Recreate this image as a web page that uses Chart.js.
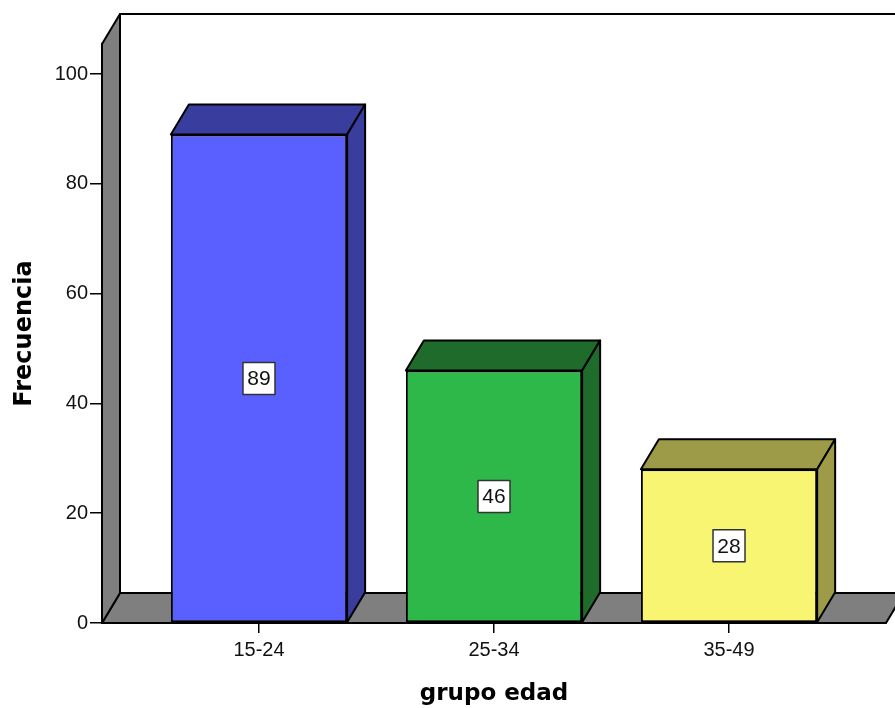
<!DOCTYPE html>
<html>
<head>
<meta charset="utf-8">
<script src="https://cdn.jsdelivr.net/npm/chart.js@4/dist/chart.umd.min.js"></script>
<style>
  body { margin: 0; background: #fff; }
</style>
</head>
<body>
<canvas id="myChart" width="895" height="708"></canvas>
<script>
  // data
  const grupos = ['15-24', '25-34', '35-49'];
  const frecuencias = [89, 46, 28];
  const yTicks = [0, 20, 40, 60, 80, 100];

  // bar colours: front face and the darker top/side faces
  const frontColors = ['#5a5fff', '#2fb84a', '#f8f572'];
  const shadeColors = ['#393d9e', '#1e6b2b', '#9e9b48'];

  // depth of the 3D box
  const DX = 18;
  const DY = -30;

  Chart.defaults.font.family = "'Liberation Sans', Arial, sans-serif";
  Chart.defaults.color = '#111';

  function poly(ctx, pts, fill) {
      ctx.beginPath();
      ctx.moveTo(pts[0][0], pts[0][1]);
      for (let i = 1; i < pts.length; i++) ctx.lineTo(pts[i][0], pts[i][1]);
      ctx.closePath();
      ctx.fillStyle = fill;
      ctx.fill();
      ctx.stroke();
  }

  // walls and floor behind the bars
  const walls = {
      id: 'walls',
      beforeDraw(chart) {
          const {ctx, chartArea: a} = chart;
          ctx.save();
          ctx.strokeStyle = '#000';
          ctx.lineWidth = 2;
          ctx.lineJoin = 'round';
          poly(ctx, [[a.left + DX, a.top + DY], [a.right + DX, a.top + DY],
                     [a.right + DX, a.bottom + DY], [a.left + DX, a.bottom + DY]], '#fff');
          poly(ctx, [[a.left, a.bottom], [a.left + DX, a.bottom + DY],
                     [a.right + DX, a.bottom + DY], [a.right, a.bottom]], '#7f7f7f');
          poly(ctx, [[a.left, a.top], [a.left + DX, a.top + DY],
                     [a.left + DX, a.bottom + DY], [a.left, a.bottom]], '#7f7f7f');
          ctx.restore();
      }
  };

  // top and side faces of each bar, plus the value boxes
  const boxes = {
      id: 'boxes',
      afterDatasetsDraw(chart) {
          const {ctx} = chart;
          const meta = chart.getDatasetMeta(0);
          ctx.save();
          ctx.strokeStyle = '#000';
          ctx.lineWidth = 2;
          ctx.lineJoin = 'round';
          meta.data.forEach((bar, i) => {
              const x1 = bar.x - bar.width / 2;
              const x2 = bar.x + bar.width / 2;
              const top = bar.y;
              const base = bar.base;
              poly(ctx, [[x1, top], [x1 + DX, top + DY], [x2 + DX, top + DY], [x2, top]], shadeColors[i]);
              poly(ctx, [[x2, top], [x2 + DX, top + DY], [x2 + DX, base + DY], [x2, base]], shadeColors[i]);
          });

          ctx.font = "21px 'Liberation Sans', Arial, sans-serif";
          ctx.textAlign = 'center';
          ctx.textBaseline = 'middle';
          meta.data.forEach((bar, i) => {
              const cy = (bar.y + bar.base) / 2;
              const w = 32, h = 32;
              ctx.fillStyle = '#fff';
              ctx.strokeStyle = '#333';
              ctx.lineWidth = 1.5;
              ctx.fillRect(bar.x - w / 2, cy - h / 2, w, h);
              ctx.strokeRect(bar.x - w / 2, cy - h / 2, w, h);
              ctx.fillStyle = '#111';
              ctx.fillText(String(frecuencias[i]), bar.x, cy + 1);
          });
          ctx.restore();
      }
  };

  const data = {
      datasets: [{
          data: frecuencias.map((v, i) => ({x: i, y: v})),
          backgroundColor: frontColors,
          borderColor: '#000',
          borderWidth: 2,
          borderSkipped: false,
          barPercentage: 0.75,
          categoryPercentage: 1
      }]
  };

  const config = {
      type: 'bar',
      data,
      plugins: [walls, boxes],
      options: {
          responsive: false,
          animation: false,
          layout: { padding: { top: 44, right: 9, left: 0, bottom: 0 } },
          plugins: {
              legend: { display: false },
              tooltip: { enabled: false }
          },
          scales: {
              x: {
                  type: 'linear',
                  min: -0.668,
                  max: 2.668,
                  offset: false,
                  afterBuildTicks: (scale) => { scale.ticks = grupos.map((g, i) => ({value: i})); },
                  afterFit: (scale) => { scale.height = 85; },
                  ticks: {
                      autoSkip: false,
                      maxRotation: 0,
                      padding: 5,
                      font: { size: 20 },
                      callback: (v, i) => grupos[i]
                  },
                  grid: { offset: false, drawOnChartArea: false, tickLength: 10, color: '#000', lineWidth: 1.5 },
                  border: { color: '#000', width: 2 },
                  title: {
                      display: true,
                      text: 'grupo edad',
                      color: '#000',
                      padding: { top: 0, bottom: 0 },
                      font: { family: "'DejaVu Sans', sans-serif", size: 23, weight: 'bold' }
                  }
              },
              y: {
                  min: 0,
                  max: 105.5,
                  afterBuildTicks: (scale) => { scale.ticks = yTicks.map(v => ({value: v})); },
                  afterFit: (scale) => { scale.width = 102; },
                  ticks: { padding: 2, font: { size: 20 } },
                  grid: { drawOnChartArea: false, tickLength: 12, color: '#000', lineWidth: 1.5 },
                  border: { color: '#000', width: 2 },
                  title: {
                      display: true,
                      text: 'Frecuencia',
                      color: '#000',
                      padding: { top: 10, bottom: 0 },
                      font: { family: "'DejaVu Sans', sans-serif", size: 24, weight: 'bold' }
                  }
              }
          }
      }
  };

  // render
  const myChart = new Chart(document.getElementById('myChart'), config);
</script>
</body>
</html>
